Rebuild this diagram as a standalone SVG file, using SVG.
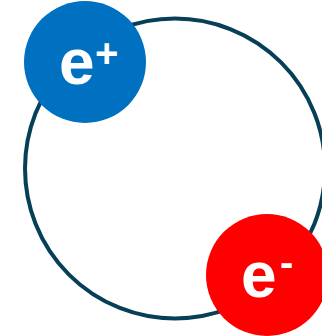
<svg xmlns="http://www.w3.org/2000/svg" width="322" height="336" viewBox="0 0 322 336">
<style>
.lbl{font-family:"Liberation Sans",Arial,sans-serif;font-weight:bold;fill:#ffffff}
.big{font-size:64px}
.sup{font-size:40px}
</style>
<rect width="322" height="336" fill="#ffffff"/>
<g id="orbit">
<circle cx="175" cy="168.5" r="150" fill="none" stroke="#063f57" stroke-width="4"/>
</g>
<g id="positron">
<circle cx="85" cy="62" r="61" fill="#0070c0"/>
<text class="lbl big" x="59" y="84">e</text>
<text class="lbl sup" x="95" y="67">+</text>
</g>
<g id="electron">
<circle cx="267" cy="275" r="61" fill="#ff0000"/>
<text class="lbl big" x="241" y="297">e</text>
<text class="lbl sup" x="280" y="276">-</text>
</g>
</svg>
